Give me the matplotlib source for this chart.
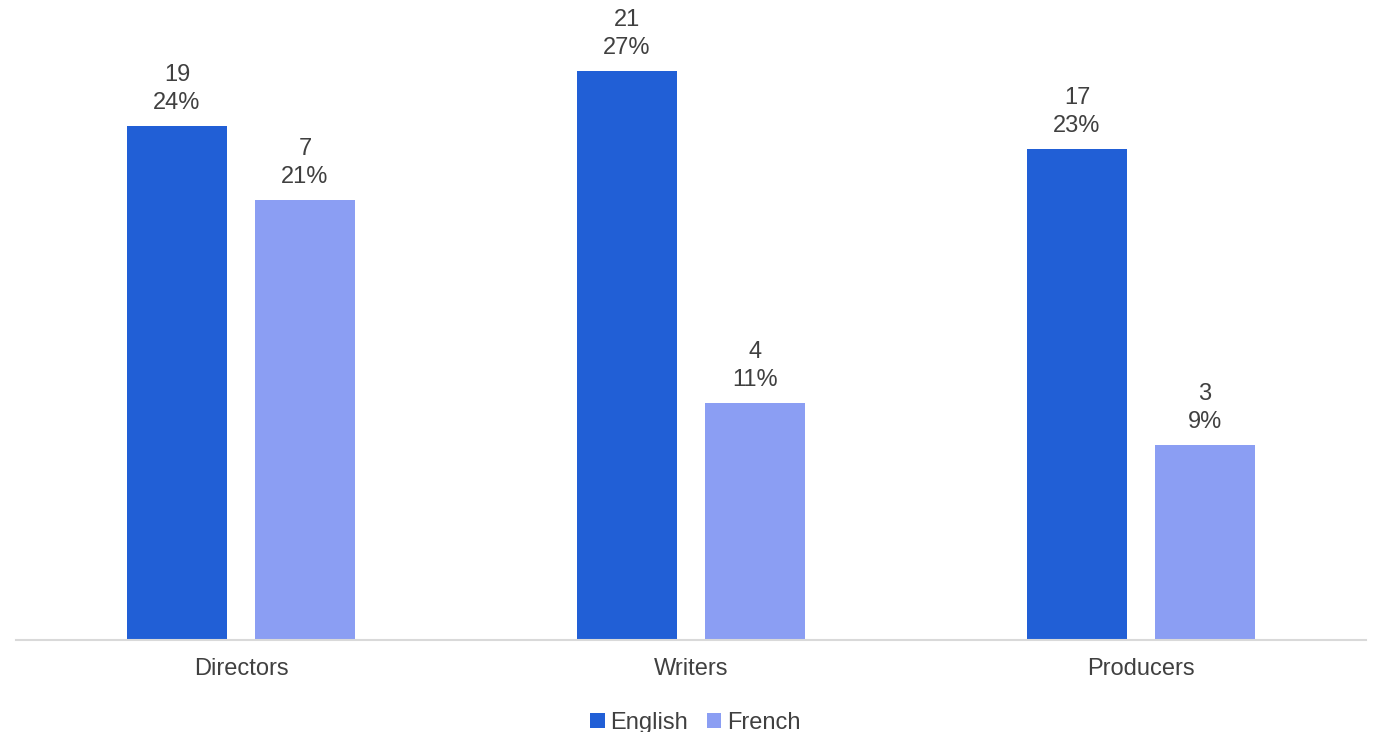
import matplotlib
matplotlib.use("Agg")
import matplotlib.pyplot as plt
import numpy as np

plt.rcParams['font.family'] = ['Liberation Sans', 'DejaVu Sans']

categories = ["Directors", "Writers", "Producers"]
series_names = ["English", "French"]
english_pct = [24.3, 26.9, 23.2]
french_pct = [20.8, 11.2, 9.2]
english_counts = [19, 21, 17]
french_counts = [7, 4, 3]
english_labels = ["24%", "27%", "23%"]
french_labels = ["21%", "11%", "9%"]

colors = ["#215FD6", "#8B9EF3"]
text_color = "#404040"

fig = plt.figure(figsize=(13.73, 7.32), dpi=100)
ax = fig.add_axes([16/1373, 92/732, 1350/1373, (640-8)/732])

x = np.arange(len(categories))
w = 100/450
off = 64/450

b1 = ax.bar(x - off, english_pct, w, color=colors[0], label=series_names[0])
b2 = ax.bar(x + off, french_pct, w, color=colors[1], label=series_names[1])

for bars, counts, labs in [(b1, english_counts, english_labels), (b2, french_counts, french_labels)]:
    for bar, c, l in zip(bars, counts, labs):
        ax.annotate(f"{c}\n{l}", (bar.get_x() + bar.get_width()/2, bar.get_height()),
                    xytext=(0, 9), textcoords="offset points", ha="center", va="bottom",
                    fontsize=17, color=text_color, linespacing=1.32)

ax.set_xlim(-0.5, 2.5)
ax.set_ylim(0, 632/21.15)
ax.set_xticks(x)
ax.set_xticklabels(categories, fontsize=17, color=text_color)
ax.tick_params(axis='x', length=0, pad=13)
ax.set_yticks([])
for s in ["top", "right", "left"]:
    ax.spines[s].set_visible(False)
ax.spines["bottom"].set_color("#D9D9D9")
ax.spines["bottom"].set_linewidth(1.5)

leg = fig.legend(handles=[b1, b2], labels=series_names, loc="lower center",
                 bbox_to_anchor=(0.5 + 9/1373, -0.032), ncol=2, frameon=False,
                 fontsize=17, handlelength=0.6, handleheight=0.6,
                 handletextpad=0.25, columnspacing=0.8)
for t in leg.get_texts():
    t.set_color(text_color)

fig.savefig("out.png", dpi=100)
